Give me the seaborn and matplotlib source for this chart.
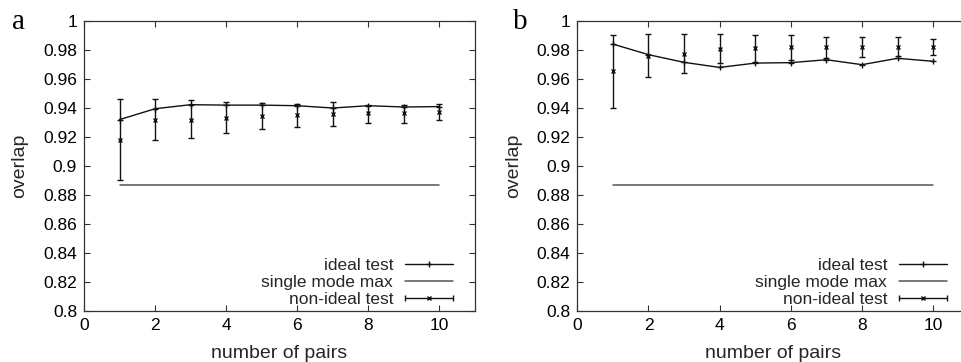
import numpy as np
import pandas as pd
import matplotlib
matplotlib.use("Agg")
import matplotlib.pyplot as plt
from matplotlib.lines import Line2D
from matplotlib.legend_handler import HandlerBase
from matplotlib.ticker import FuncFormatter, MultipleLocator
import seaborn as sns

# ---------------- data ----------------
pairs = [1, 2, 3, 4, 5, 6, 7, 8, 9, 10]
single_mode_max = 0.8867

# panel a
a_ideal = [0.932, 0.9395, 0.9423, 0.942, 0.942, 0.9416, 0.940, 0.9416, 0.9407, 0.941]
a_nonideal = [0.9182, 0.9315, 0.932, 0.9333, 0.9345, 0.9352, 0.9359, 0.9363, 0.9366, 0.9372]
a_nonideal_hi = [0.9462, 0.946, 0.9453, 0.9439, 0.9432, 0.9425, 0.9441, 0.9423, 0.942, 0.9428]
a_nonideal_lo = [0.8906, 0.9177, 0.9193, 0.9225, 0.9255, 0.9271, 0.9276, 0.9294, 0.9299, 0.9315]

# panel b
b_ideal = [0.9841, 0.9768, 0.9715, 0.968, 0.971, 0.9713, 0.9733, 0.9699, 0.9743, 0.9722]
b_nonideal = [0.9653, 0.9761, 0.9775, 0.9807, 0.9811, 0.9818, 0.9818, 0.982, 0.9823, 0.982]
b_nonideal_hi = [0.9903, 0.9913, 0.9908, 0.9908, 0.9903, 0.9901, 0.989, 0.9887, 0.9887, 0.9874]
b_nonideal_lo = [0.9398, 0.9614, 0.9644, 0.971, 0.9715, 0.9731, 0.9743, 0.9752, 0.9756, 0.9768]

panel_labels = ["a", "b"]
series_labels = ["ideal test", "single mode max", "non-ideal test"]
x_label = "number of pairs"
y_label = "overlap"

# ---------------- style ----------------
sns.set_theme(style="ticks")
plt.rcParams["font.family"] = ["Liberation Sans", "DejaVu Sans"]
FS = 12.5
FS_LAB = 14
SPINE = "#333333"
LINE = "#111111"
GRAY = "#555555"


class ErrHandler(HandlerBase):
    def create_artists(self, legend, orig_handle, xdescent, ydescent,
                       width, height, fontsize, trans):
        y = (height - ydescent) / 2.0
        x0, x1 = -xdescent, width - xdescent
        l = Line2D([x0, x1], [y, y], color=LINE, lw=1.0)
        caps = Line2D([x0, x1], [y, y], color=LINE, lw=1.0, linestyle="none",
                      marker="|", markersize=5, markeredgewidth=1.0)
        m = Line2D([(x0 + x1) / 2], [y], color=LINE, marker="x",
                   markersize=3.5, markeredgewidth=1.0, linestyle="none")
        for art in (l, caps, m):
            art.set_transform(trans)
        return [l, caps, m]


class ErrProxy:
    pass


fig = plt.figure(figsize=(9.62, 3.62), dpi=100)
positions = [[0.0873, 0.1409, 0.4064, 0.801], [0.6001, 0.1409, 0.407, 0.801]]
panels = [
    (a_ideal, a_nonideal, a_nonideal_lo, a_nonideal_hi),
    (b_ideal, b_nonideal, b_nonideal_lo, b_nonideal_hi),
]
label_x = [0.012, 0.533]

for pos, (ideal, nonideal, lo, hi), plab, lx in zip(positions, panels, panel_labels, label_x):
    ax = fig.add_axes(pos)
    df = pd.DataFrame({"pairs": pairs, "ideal": ideal,
                       "smm": [single_mode_max] * len(pairs)})
    sns.lineplot(data=df, x="pairs", y="ideal", ax=ax, color=LINE, lw=1.0,
                 marker="+", markersize=4, markeredgewidth=1.0,
                 markeredgecolor=LINE, errorbar=None)
    sns.lineplot(data=df, x="pairs", y="smm", ax=ax, color=GRAY, lw=1.1,
                 errorbar=None)
    nv = np.array(nonideal)
    yerr = np.vstack([nv - np.array(lo), np.array(hi) - nv])
    ax.errorbar(pairs, nonideal, yerr=yerr, fmt="x", color=LINE, ms=3.5,
                mew=1.0, elinewidth=1.0, capsize=2.2, capthick=1.0)

    ax.set_xlim(0, 11)
    ax.set_ylim(0.8, 1.0)
    ax.xaxis.set_major_locator(MultipleLocator(2))
    ax.yaxis.set_major_locator(MultipleLocator(0.02))
    ax.yaxis.set_major_formatter(FuncFormatter(lambda v, p: "{:g}".format(round(v, 2))))
    ax.tick_params(direction="in", top=True, right=True, length=4, width=0.8,
                   color=SPINE, labelsize=FS, pad=5, labelcolor="black")
    for s in ax.spines.values():
        s.set_color(SPINE)
        s.set_linewidth(0.9)
    ax.set_xlabel(x_label, fontsize=FS_LAB, labelpad=8.5)
    ax.set_ylabel(y_label, fontsize=FS_LAB, labelpad=10.5)

    handles = [
        Line2D([], [], color=LINE, lw=1.0, marker="+", markersize=4, markeredgewidth=1.0),
        Line2D([], [], color=GRAY, lw=1.1),
        ErrProxy(),
    ]
    ax.legend(handles, series_labels, handler_map={ErrProxy: ErrHandler()},
              loc="lower right", bbox_to_anchor=(0.944, 0.015), borderaxespad=0,
              borderpad=0, frameon=False, markerfirst=False, handlelength=2.75,
              handletextpad=0.7, labelspacing=0.1, fontsize=FS)

    fig.text(lx, 0.92, plab, family=["Liberation Serif", "DejaVu Serif"],
             fontsize=21, color="black")

fig.savefig("out.png", dpi=100)
